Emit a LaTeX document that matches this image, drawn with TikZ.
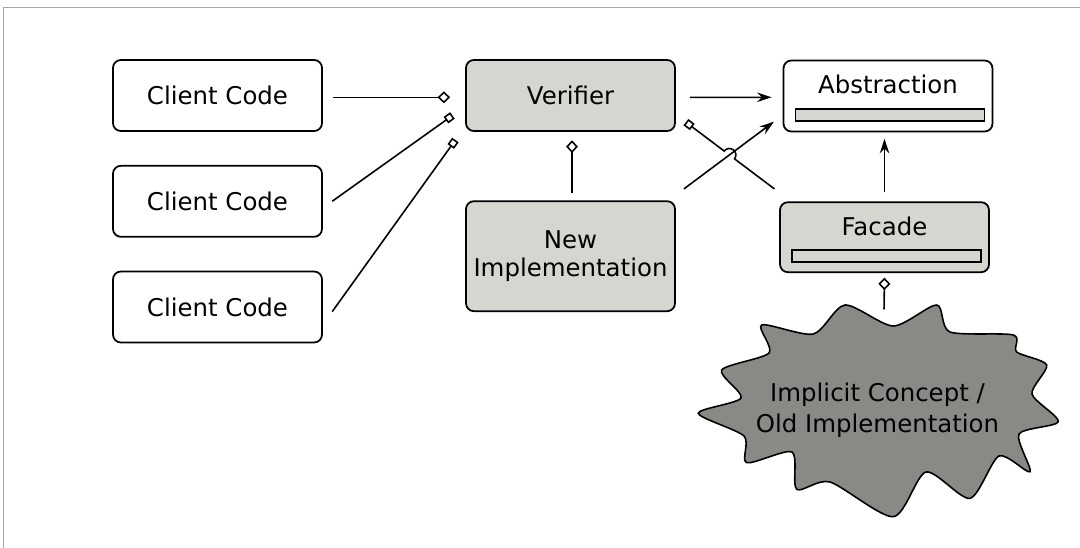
\documentclass[tikz,border=0pt]{standalone}
\usepackage{fontspec}
\setmainfont{DejaVu Sans}
\usetikzlibrary{arrows.meta,calc}

\definecolor{boxgray}{HTML}{D3D7CF}
\definecolor{cloudgray}{HTML}{888A85}
\definecolor{framegray}{HTML}{A6A6A6}

\begin{document}
\begin{tikzpicture}[x=0.2mm,y=-0.2mm,>={Stealth[length=2.9mm,width=1.9mm]},
  every node/.style={font=\fontsize{13.9}{15.5}\selectfont}]
  \tikzset{box/.style={rectangle,rounded corners=4.5pt,draw,line width=1pt,minimum width=4.18cm,minimum height=1.42cm,inner sep=0pt},
    gbox/.style={box,fill=boxgray},
    bar/.style={rectangle,draw,line width=1pt,fill=boxgray,minimum width=3.78cm,minimum height=0.24cm,inner sep=0pt},
    ln/.style={line width=0.9pt},
    dia/.style={-{Diamond[fill=white,length=2.5mm,width=2.4mm]}},
    sq/.style={-{Square[fill=white,length=1.6mm,width=1.6mm]}}}
  \useasboundingbox (0,0) rectangle (1080,548);
  \draw[framegray,line width=0.75pt] (3.3,548) -- (3.3,7.3) -- (1080,7.3);
  % boxes
  \node[box] (c1) at (217.5,95.5) {Client Code};
  \node[box] (c2) at (217.5,201.3) {Client Code};
  \node[box] (c3) at (217.5,307) {Client Code};
  \node[gbox] (ver) at (570.5,95.5) {Verifier};
  \node[gbox,minimum height=2.2cm,align=center] (newimp) at (570.5,256.2) {New\\Implementation};
  \node[box] (abs) at (888,96) {};
  \node[anchor=base] (abstxt) at (888,93.3) {Abstraction};
  \node[bar] (absbar) at (890,114.8) {};
  \node[gbox,minimum height=1.4cm] (fac) at (884.5,237.2) {};
  \node[anchor=base] (factxt) at (884.5,235) {Facade};
  \node[bar] (facbar) at (886.7,256.3) {};
  % old implementation
  \draw[ln,fill=cloudgray] plot[smooth cycle,tension=0.45] coordinates {
    (761.7,325) (813.3,334) (845,305) (893.3,326) (936.7,305) (950,332)
    (1013.3,335) (1016.7,352) (1046.7,365) (1032,394) (1058.3,421.7)
    (1019,434) (1030,471.7) (999,456) (970,498.3) (926,472)
    (893.3,516.7) (830,482) (796.7,489.3) (792,452) (746.7,462.7)
    (744,436) (698.3,413.3) (741,398) (721.7,370) (769,353)};
  \node[align=center,font=\fontsize{13.9}{17.6}\selectfont] (old) at (877.5,409.9) {Implicit Concept /\\Old Implementation};
  % connectors
  \draw[ln,dia] ($(c1.east)+(10,1.8)$) -- ($(ver.west)+(-15,1.8)$);
  \draw[ln,sq] ($(c2.east)+(9.3,0)$) -- ($(ver.west)+(-12.7,20)$);
  \draw[ln,sq] ($(c3.east)+(9.3,4.7)$) -- ($(ver.west)+(-9.7,44.5)$);
  \draw[ln,->,shorten <=2.8mm,shorten >=2.2mm] ($(ver.east)+(0,1.8)$) -- ($(abs.west)+(0,1.3)$);
  \draw[ln,dia,shorten <=1.5mm,shorten >=1.7mm] ($(newimp.north)+(1.5,0)$) -- ($(ver.south)+(1.5,0)$);
  \coordinate (a1) at ($(ver.south east)+(10,-9.7)$);
  \coordinate (a2) at ($(fac.north west)+(-4.7,-12.4)$);
  \coordinate (b1) at ($(newimp.north east)+(8,-11.4)$);
  \coordinate (b2) at ($(abs.south west)+(-8.7,-10.7)$);
  \coordinate (hop) at (intersection of a1--a2 and b1--b2);
  \draw[ln,->] (b1) -- (b2);
  \draw[ln,{Square[fill=white,length=1.6mm,width=1.6mm]}-] (a1) -- ($(hop)!1.3mm!(a1)$)
    arc[start angle=143,end angle=-37,radius=1.3mm] -- (a2);
  \draw[ln,->,shorten <=1.8mm,shorten >=1.3mm] (fac.north) -- (fac.north |- abs.south);
  \coordinate (oldtop) at (884,309.3);
  \draw[ln,dia] (oldtop) -- ($(fac.south)+(0,4.6)$);
\end{tikzpicture}
\end{document}
